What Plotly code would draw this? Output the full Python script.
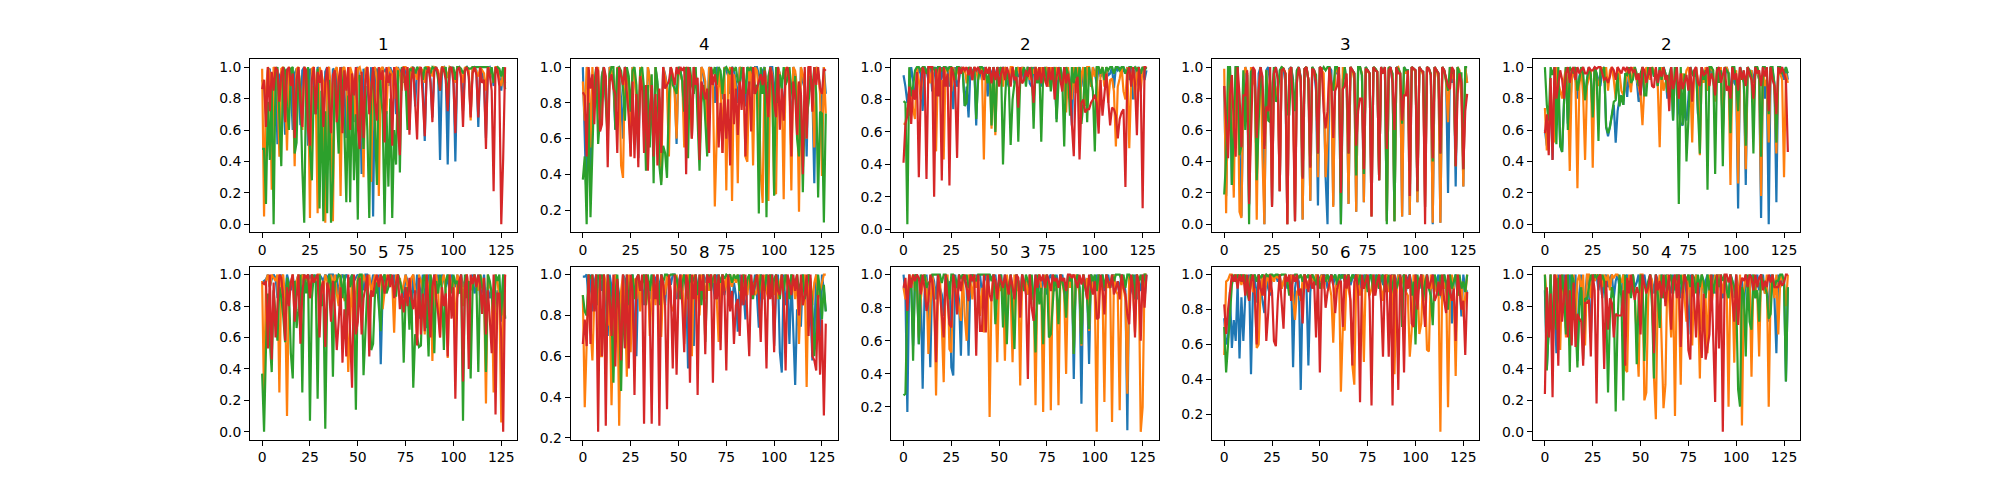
import plotly.graph_objects as go

titles = ["1", "4", "2", "3", "2", "5", "8", "3", "6", "4"]
x_ticks = [0, 25, 50, 75, 100, 125]
colors = ["#1f77b4", "#ff7f0e", "#2ca02c", "#d62728"]

b1 = [92,88,70,98,99,62,95,100,51,94,97,85,57,99,96,88,
60,96,99,94,63,98,100,90,50,99,96,92,70,100,98,93,
58,97,100,91,66,99,98,94,60,96,100,88,55,99,97,92,
65,98,100,90,32,99,95,90,72,100,5,97,99,90,80,100,
97,99,88,100,95,99,70,100,96,99,90,100,97,60,99,100,
75,100,98,99,90,53,99,100,92,68,100,98,96,41,99,100,
95,38,98,100,96,40,99,100,97,72,99,100,96,70,99,100,
98,62,100,97,90,55,99,100,96,88,100,99,95,85,100,90]
o1 = [99,5,85,100,96,22,100,98,90,43,99,100,88,47,100,98,
92,37,99,100,85,60,100,98,92,4,99,100,85,7,100,96,
90,1,99,100,85,2,98,100,88,18,99,100,92,45,100,96,
88,60,99,100,95,30,99,100,90,27,98,100,92,18,99,100,
90,70,100,98,95,80,100,99,96,85,100,100,97,90,100,99,
96,92,100,99,98,90,100,100,99,94,100,99,98,92,100,100,
98,93,100,99,98,90,100,100,97,90,100,99,98,66,100,100,
97,94,100,98,96,85,100,99,98,90,100,100,92,88,96,86]
g1 = [48,48,13,78,41,88,0,96,100,70,37,100,98,75,60,99,
100,45,52,98,85,35,1,95,100,48,28,88,70,99,10,85,
2,72,7,92,1,28,96,72,45,100,88,60,14,82,14,90,
28,70,3,95,72,48,88,60,4,85,98,62,25,100,82,70,
0,72,24,80,4,60,38,98,33,100,96,90,60,99,98,100,
96,100,98,99,92,100,99,98,96,100,99,100,92,85,100,98,
100,75,100,99,100,92,100,100,99,96,98,100,99,99,100,100,
100,100,100,100,100,100,100,95,100,90,98,100,99,94,100,86]
r1 = [86,92,62,100,72,97,85,100,98,78,95,100,65,98,100,88,
96,55,92,100,78,62,100,98,60,50,92,100,70,97,90,98,
62,90,100,80,58,95,98,65,92,100,58,98,85,100,60,96,
82,100,62,48,97,55,92,100,70,85,100,78,66,100,92,98,
52,100,90,96,50,100,88,60,44,98,100,85,100,57,92,100,
75,54,98,100,80,56,96,100,90,65,98,100,96,85,100,98,
92,72,99,100,90,58,98,100,93,62,98,100,94,68,96,100,
95,68,100,90,92,48,100,95,85,21,100,98,88,0,42,100]

b2 = [100,60,22,98,35,95,88,100,90,70,96,100,85,66,100,98,
90,65,100,96,82,60,100,98,90,55,100,96,85,49,100,92,
88,52,100,94,86,65,100,90,82,60,100,96,90,72,100,94,
90,57,100,98,92,70,100,96,88,60,100,94,90,68,100,96,
88,72,100,98,92,80,100,98,94,82,100,98,95,85,100,98,
92,80,100,96,90,78,100,96,92,85,100,100,96,90,98,100,
92,88,100,100,90,72,100,96,88,72,100,94,90,62,100,96,
85,60,100,92,88,50,100,90,85,35,100,96,90,70,100,85]
o2 = [92,70,100,96,55,100,80,96,100,65,95,100,85,60,100,98,
90,72,100,96,45,38,100,96,88,50,100,95,80,60,100,92,
85,62,100,94,78,55,100,88,82,36,100,95,88,50,100,96,
85,60,100,96,92,55,100,98,85,60,100,96,88,55,100,98,
92,52,100,96,90,22,70,100,88,52,100,31,96,100,25,96,
88,35,100,98,92,50,47,100,96,45,100,98,85,40,24,100,
88,25,100,96,30,29,100,96,88,26,100,94,90,31,100,98,
88,19,100,96,88,60,100,94,90,55,100,98,85,39,100,74]
g2 = [37,50,12,80,16,54,90,100,57,72,95,100,80,60,96,100,
100,65,99,100,98,88,70,100,95,75,98,100,90,60,98,100,
88,42,90,55,96,35,100,92,45,34,56,52,38,82,100,90,
88,85,100,98,92,75,100,49,100,90,85,100,70,42,80,90,
70,50,85,100,96,100,90,100,98,85,99,100,98,96,100,98,
100,92,90,100,96,85,100,98,100,96,88,90,18,100,85,100,
16,95,100,90,28,100,80,96,88,100,90,94,100,88,82,95,
60,50,85,30,78,72,80,95,88,100,85,27,75,74,13,74]
r2 = [86,84,50,100,88,96,68,100,98,64,68,100,95,44,92,96,
88,85,52,100,95,90,100,85,72,50,92,49,85,44,95,88,
52,90,42,75,90,50,85,45,88,52,100,88,90,92,100,95,
90,100,96,100,98,100,40,100,96,60,100,90,94,48,92,88,
82,88,52,100,90,96,88,55,80,52,85,60,82,45,100,68,
88,62,92,76,100,50,84,92,64,100,85,88,92,96,90,98,
85,72,100,94,80,72,100,65,88,70,98,100,92,50,92,84,
62,92,85,40,100,60,100,100,75,100,90,100,88,85,99,98]

b3 = [95,88,78,86,100,92,80,90,100,96,73,100,98,92,100,85,
96,100,90,82,100,93,98,100,88,96,74,100,88,92,100,98,
76,88,69,100,96,100,64,100,98,92,100,96,82,100,94,100,
96,92,100,90,100,98,92,88,95,100,90,100,94,96,100,92,
98,100,90,88,100,96,92,100,88,94,100,96,88,100,92,98,
68,100,96,90,100,80,98,92,64,100,90,96,100,88,100,92,
100,94,88,100,96,90,100,94,98,92,100,95,96,100,87,100,
98,100,95,100,96,100,92,100,80,98,100,88,96,100,92,98]
o3 = [65,65,75,70,86,74,68,100,92,80,100,98,96,100,90,100,
85,48,100,88,92,43,100,98,100,85,100,92,100,95,100,96,
100,90,98,100,92,100,98,92,100,98,43,100,96,100,62,100,
58,100,96,100,88,100,98,92,100,100,96,98,100,94,100,98,
96,100,92,100,96,100,98,92,100,90,98,100,88,100,92,96,
100,92,100,90,96,72,100,88,80,100,84,100,68,96,100,76,
100,100,88,100,94,100,66,96,100,88,100,78,92,93,85,51,
88,93,100,85,80,100,50,90,100,80,100,92,85,100,99,100]
g3 = [79,78,3,100,82,88,98,100,100,98,100,100,96,100,100,98,
100,96,100,100,98,100,100,98,100,100,98,92,100,100,99,96,
76,78,100,98,95,100,68,92,100,100,98,96,90,100,64,100,
60,100,96,100,40,78,100,92,52,80,90,100,54,92,96,100,
88,100,96,100,62,100,90,100,54,96,100,90,100,85,96,100,
66,90,100,92,51,100,96,70,100,90,100,88,100,65,78,100,
66,100,92,85,48,100,100,96,100,92,100,98,100,100,96,100,
100,98,100,100,96,98,100,100,99,100,98,100,96,100,98,100]
r3 = [41,65,70,88,65,86,80,97,32,85,100,96,31,100,100,100,
20,99,82,100,30,100,88,96,27,100,96,88,44,100,96,100,
98,100,95,100,92,100,98,100,96,98,92,100,96,100,90,100,
92,100,88,96,100,92,100,96,88,100,92,94,75,100,90,92,
98,94,100,92,78,100,92,100,90,100,92,88,100,92,100,80,
94,100,92,85,100,90,96,88,65,45,90,94,43,78,80,72,
74,74,78,80,83,78,59,92,70,84,96,80,64,75,74,70,
56,68,72,74,26,96,100,88,100,90,58,100,88,13,100,100]

b4 = [88,18,70,100,25,44,100,100,50,5,80,100,96,12,97,99,
96,28,96,100,85,0,98,100,90,12,98,100,94,21,100,99,
90,0,99,100,92,2,98,100,94,3,99,100,92,15,100,98,
85,12,100,99,85,30,0,100,98,12,100,96,95,0,92,100,
90,13,100,98,96,8,100,100,95,14,100,98,96,5,100,99,
97,28,100,96,100,2,99,100,90,2,100,99,96,5,100,98,
98,6,100,99,98,14,100,98,97,11,100,99,95,0,100,98,
96,1,100,98,92,20,100,90,98,24,100,96,92,24,100,90]
o4 = [99,7,85,100,62,17,100,96,8,4,90,100,96,52,100,92,
88,3,85,100,42,0,98,72,92,12,96,80,88,21,100,99,
96,0,98,100,82,2,97,100,92,3,99,100,92,15,100,96,
92,30,100,98,96,30,54,100,85,11,96,100,96,19,100,95,
90,13,100,98,92,8,100,100,96,14,100,97,96,5,100,99,
97,28,100,96,99,2,100,99,95,2,99,100,96,5,100,96,
98,6,100,99,97,14,100,98,95,11,100,99,95,1,100,98,
92,1,100,98,90,65,100,95,92,37,100,98,80,24,100,90]
g4 = [19,42,100,100,25,62,100,100,44,50,98,60,95,0,97,99,
96,28,64,100,85,50,98,66,65,85,100,78,80,98,100,99,
96,70,70,100,90,72,98,100,92,30,99,100,92,37,100,98,
95,45,100,98,100,98,100,100,90,85,100,100,95,0,85,100,
90,45,100,98,96,31,100,100,95,32,100,98,96,26,100,99,
97,28,100,96,100,0,100,99,96,2,100,99,96,64,100,98,
98,34,100,99,98,21,100,98,97,45,100,99,96,40,100,98,
96,45,100,98,92,85,100,96,98,37,100,96,96,35,100,100]
r4 = [88,60,42,82,95,63,43,100,82,49,82,82,98,13,52,100,
98,55,85,100,94,48,75,72,100,11,96,100,92,21,98,99,
96,0,95,100,72,2,90,100,92,29,99,100,92,36,99,98,
90,45,100,99,72,61,72,100,90,55,85,88,100,20,86,88,
96,45,100,98,96,50,72,80,80,35,99,98,96,5,100,98,
97,28,100,96,100,48,98,100,90,60,100,96,96,66,82,82,
98,18,100,99,98,21,100,98,97,0,100,99,95,42,100,98,
96,45,100,98,92,88,86,100,98,37,83,96,90,35,72,83]

b5 = [60,50,60,85,41,90,96,85,50,46,78,100,64,70,92,96,
100,80,94,100,90,79,92,100,95,68,100,96,92,88,98,100,
62,56,62,70,76,52,72,80,82,76,96,81,98,88,96,100,
92,78,80,100,84,90,100,95,100,94,96,88,100,92,100,96,
80,90,100,66,100,92,72,64,63,72,66,80,100,96,94,100,
70,88,100,92,98,85,96,100,92,84,98,90,100,60,92,100,
96,80,100,90,88,10,100,96,90,25,100,96,98,90,100,96,
92,4,100,80,92,0,100,98,90,14,100,100,96,92,100,92]
o5 = [74,47,58,88,60,52,100,90,85,80,92,100,85,34,92,100,
90,23,88,100,82,41,88,94,98,36,98,92,88,95,100,90,
100,85,98,100,92,80,100,96,85,82,88,100,92,84,100,96,
92,88,82,63,88,100,96,92,100,98,96,88,49,100,85,90,
90,88,96,78,100,92,80,88,96,90,98,100,92,52,96,100,
92,44,100,90,100,85,98,100,96,78,100,92,100,58,98,100,
96,25,100,92,98,26,100,94,92,35,100,96,98,75,96,100,
92,18,100,88,92,52,100,96,88,45,98,96,92,30,96,90]
g5 = [100,76,66,100,95,100,51,100,50,46,78,100,60,100,98,96,
100,85,92,100,96,79,92,100,95,68,100,96,53,100,96,100,
62,58,62,70,78,79,96,75,82,76,96,95,100,90,92,100,
96,88,96,100,82,82,100,95,100,94,96,88,100,92,100,96,
84,95,100,66,100,92,13,100,63,96,40,66,100,96,94,100,
68,45,100,92,98,22,100,100,98,32,100,90,98,37,100,98,
96,58,100,100,90,72,100,96,90,50,100,98,94,45,100,100,
96,43,100,100,96,70,100,100,88,52,100,100,96,96,100,96]
r5 = [58,70,44,93,41,100,80,88,98,92,80,96,100,90,98,100,
92,100,96,98,100,96,96,100,98,98,100,99,100,100,96,92,
93,90,94,100,98,92,100,98,96,100,98,100,96,100,97,98,
92,96,82,100,98,90,96,100,88,87,100,90,98,94,100,92,
95,72,100,86,92,100,80,96,86,90,95,85,100,78,98,100,
90,88,100,95,96,100,88,96,92,82,98,100,90,95,100,85,
88,80,100,92,96,85,100,92,98,88,100,95,92,80,100,96,
98,88,100,94,100,72,100,92,88,70,100,96,100,96,92,46]

b6 = [95,96,97,100,92,97,100,98,85,95,100,90,85,100,95,90,
100,88,96,100,85,100,98,96,100,98,100,96,100,92,100,98,
96,100,98,100,100,100,95,100,85,98,100,96,100,98,97,100,
96,98,100,96,100,90,100,100,98,92,100,96,88,100,43,90,
100,96,92,100,94,100,90,100,96,92,85,100,96,88,73,100,
85,100,72,90,100,85,66,100,96,90,100,88,100,94,100,96,
92,100,88,100,96,92,100,88,100,92,96,100,90,96,100,88,
92,100,85,90,100,80,92,85,90,70,80,90,85,70,100,72]
o6 = [96,20,96,100,92,100,98,96,100,25,98,100,85,10,90,96,
100,70,96,100,92,100,98,96,100,85,100,98,96,100,100,90,
88,100,96,90,100,92,100,88,80,100,88,84,85,38,72,100,
60,88,98,100,92,100,96,90,100,88,95,100,92,96,100,78,
88,100,92,100,96,63,100,96,98,88,94,100,92,86,98,100,
90,56,100,96,90,62,100,85,100,45,98,100,90,60,96,100,
88,47,100,92,96,60,100,96,98,80,98,100,92,90,96,100,
92,90,100,96,90,18,100,92,90,25,100,96,85,6,78,100]
g6 = [37,0,53,88,58,38,90,72,58,92,86,74,57,98,92,50,
34,96,66,78,100,25,100,88,100,7,85,100,95,21,100,80,
88,2,85,100,94,35,95,96,100,99,85,100,70,98,92,100,
85,14,96,100,100,36,70,92,85,52,56,88,95,80,64,98,
100,88,92,100,96,92,86,100,96,90,44,85,92,65,90,28,
62,60,54,55,96,100,80,48,100,92,50,96,88,100,90,52,
96,100,92,88,100,94,96,88,100,7,100,85,96,34,90,100,
95,38,100,92,88,38,100,96,88,70,100,96,100,74,100,72]
r6 = [95,94,96,53,100,46,95,60,80,100,98,85,58,92,80,95,
100,70,85,100,56,88,100,98,100,85,100,95,98,100,60,92,
96,54,95,90,70,96,78,52,70,92,44,78,48,100,62,28,
100,62,70,98,62,85,92,100,48,90,86,96,100,92,100,96,
88,96,100,92,100,85,95,100,78,88,76,92,80,98,85,78,
90,55,98,62,88,64,100,78,60,92,100,85,75,60,92,80,
88,48,100,72,92,21,85,96,100,32,92,100,40,100,94,100,
92,100,93,75,98,62,90,72,50,100,11,88,88,60,0,100]

b7 = [99,99,100,88,100,82,96,100,85,100,92,100,88,70,100,94,
80,100,96,90,62,100,98,78,59,98,100,72,60,100,92,96,
85,100,96,88,100,92,98,100,92,100,96,85,100,99,95,100,
100,88,96,100,92,100,95,54,100,96,65,100,94,92,98,100,
96,100,92,100,96,88,100,98,85,100,90,96,100,92,85,96,
90,72,100,85,92,78,96,100,88,92,100,90,74,100,88,92,
100,88,96,100,65,92,100,62,52,100,85,92,66,100,76,46,
83,75,75,100,92,90,100,85,58,70,100,88,70,100,92,82]
o7 = [90,35,66,100,75,58,88,100,92,60,60,100,96,75,88,36,
82,100,96,26,92,100,85,50,100,62,96,98,88,100,82,96,
100,85,100,70,92,100,85,100,70,70,96,90,100,92,86,82,
85,100,92,88,100,66,92,100,96,60,100,88,92,80,100,98,
88,100,92,100,96,100,88,67,96,100,92,100,88,100,94,100,
96,100,92,88,100,96,90,100,92,96,90,92,100,96,88,100,
92,88,100,96,90,100,88,96,100,92,100,95,90,100,96,88,
100,66,92,96,100,45,100,98,85,96,100,88,92,96,100,100]
g7 = [90,82,80,100,98,100,92,85,100,98,100,88,52,100,96,80,
47,90,100,85,43,90,64,100,85,96,100,88,98,100,92,96,
100,85,100,92,100,94,90,96,85,100,96,100,100,99,100,100,
100,98,92,88,96,100,92,88,100,96,98,100,90,100,85,100,
67,96,100,92,98,100,88,100,96,100,98,100,99,100,96,100,
98,100,92,96,100,90,98,100,92,88,98,100,90,100,98,92,
100,96,100,90,98,100,96,88,100,92,100,96,88,100,98,96,
100,92,96,100,88,92,100,96,85,60,72,100,92,78,95,82]
r7 = [66,78,65,100,66,100,82,100,23,100,60,100,26,100,88,70,
100,55,98,82,58,100,64,100,54,100,92,41,98,100,92,100,
27,100,96,82,27,100,88,100,26,100,96,85,34,100,92,54,
100,51,92,100,85,62,100,96,47,100,88,100,41,100,92,100,
61,100,96,100,47,100,88,100,63,100,92,53,100,82,92,66,
85,88,70,100,85,100,80,60,100,90,96,100,90,67,100,92,
54,100,88,100,62,100,92,90,100,88,53,100,96,90,100,92,
100,80,100,85,90,100,70,100,60,58,53,90,51,78,31,76]

b8 = [100,88,17,100,95,57,98,100,58,92,31,88,100,85,44,100,
96,85,100,92,88,75,100,92,96,44,39,100,92,85,51,100,
96,92,51,100,98,94,100,96,100,88,96,100,92,100,98,96,
100,90,96,100,88,100,92,88,100,92,88,100,96,85,100,92,
96,88,100,90,85,100,92,96,88,100,92,88,98,100,94,90,
100,92,96,100,92,85,100,96,100,37,96,100,92,22,100,96,
90,46,100,98,92,100,96,92,100,90,96,100,92,98,100,90,
96,92,100,98,90,6,100,92,88,100,85,96,90,100,85,100]
o8 = [92,85,88,100,96,100,90,98,62,85,95,100,96,52,80,100,
92,27,88,100,70,35,95,100,55,53,100,92,88,80,72,100,
75,60,100,96,85,100,92,100,75,92,65,88,100,14,88,100,
96,47,100,90,96,48,100,92,88,47,100,90,96,33,100,92,
96,88,100,85,92,21,98,100,92,17,100,92,96,18,100,92,
96,21,100,96,88,40,100,92,100,52,100,96,88,57,100,92,
98,66,100,92,88,5,100,96,90,23,100,92,96,11,100,90,
88,18,100,92,85,28,100,96,92,65,100,96,5,20,100,100]
g8 = [27,28,85,92,98,48,100,98,58,100,95,100,92,95,96,100,
100,100,100,100,95,100,100,96,85,100,100,98,92,100,98,100,
96,100,92,96,100,98,96,100,100,100,100,100,100,100,96,100,
70,90,94,100,68,98,58,92,100,80,55,100,96,85,100,90,
100,96,92,100,85,53,100,82,92,58,96,100,62,64,85,100,
92,70,100,96,90,74,100,96,98,52,96,100,92,58,100,92,
85,67,100,96,100,90,100,96,100,92,100,96,92,100,96,100,
100,100,96,100,92,100,100,96,100,85,100,96,100,92,100,100]
r8 = [92,98,78,100,92,100,96,100,98,88,100,92,78,84,100,96,
83,47,100,90,76,62,100,85,70,68,100,92,76,100,90,98,
100,92,84,100,96,100,51,100,66,66,100,65,100,88,84,100,
96,85,100,96,92,100,94,88,100,92,85,100,98,74,100,96,
88,37,100,80,72,100,92,100,96,100,92,100,96,90,100,96,
98,92,100,96,98,90,100,100,98,100,96,92,100,94,100,92,
85,100,92,88,96,73,74,100,92,76,100,96,92,100,88,92,
96,85,100,92,88,76,70,100,92,62,100,95,60,100,80,100]

b9 = [75,60,64,90,58,74,62,95,52,87,62,88,95,100,43,90,
98,84,100,92,85,78,100,92,88,100,98,100,96,100,92,96,
100,92,96,100,47,92,100,96,34,92,100,94,48,90,100,96,
100,92,98,100,96,100,92,98,100,94,100,96,92,100,98,100,
96,100,94,98,100,92,100,96,90,100,96,92,100,98,90,100,
96,92,100,94,98,100,92,98,100,88,96,100,92,98,100,90,
98,100,94,88,100,96,92,100,98,90,100,94,88,100,92,96,
100,90,85,100,92,80,100,72,96,100,88,96,76,100,92,90]
o9 = [54,96,97,100,100,98,100,96,100,94,100,98,92,96,100,90,
92,58,60,90,100,88,96,100,90,100,96,100,98,100,92,96,
100,96,92,100,85,74,90,92,85,98,100,92,96,98,100,94,
100,98,96,100,92,98,100,94,88,61,92,96,100,33,70,68,
100,92,85,48,37,96,100,88,92,50,100,96,88,92,100,90,
96,100,92,85,98,100,90,96,100,43,88,100,92,96,100,90,
88,53,68,100,92,96,66,72,100,92,57,56,100,92,96,90,
95,10,100,92,96,24,88,100,92,42,100,88,96,76,90,100]
g9 = [70,44,60,80,94,100,96,100,98,100,96,100,90,85,100,98,
100,96,100,98,100,98,100,99,100,100,99,100,100,99,100,100,
100,96,88,92,98,100,100,98,100,96,100,98,100,96,100,98,
94,100,92,96,100,96,100,96,100,98,100,94,100,98,100,96,
98,100,96,100,98,100,94,100,96,92,100,90,98,100,88,96,
100,92,98,100,90,96,100,88,94,100,92,96,100,70,100,96,
92,100,88,96,60,100,92,100,85,96,100,92,88,71,100,96,
88,100,92,100,96,80,100,92,96,100,88,100,92,96,90,100]
r9 = [83,66,80,90,100,96,100,92,100,96,100,88,100,85,96,100,
88,60,100,92,88,100,62,78,100,90,62,59,85,100,85,69,
100,96,100,85,100,96,100,88,92,72,100,96,90,100,92,96,
64,100,44,96,100,81,90,96,100,94,78,92,96,96,70,100,
92,100,85,48,96,100,90,27,100,92,96,100,85,25,100,88,
96,100,85,53,100,92,53,100,25,100,88,34,100,90,44,100,
92,100,72,70,100,80,96,100,85,70,100,92,96,100,85,88,
96,88,100,85,78,100,90,85,92,62,100,92,80,85,54,90]

b10 = [90,40,66,100,60,88,50,100,70,85,100,66,90,100,70,85,
100,45,88,100,70,85,100,92,60,100,96,100,90,100,85,96,
100,92,98,100,85,96,100,92,88,100,96,100,90,98,100,92,
95,100,88,96,100,92,90,100,96,88,100,96,92,100,85,96,
100,92,88,100,90,96,100,85,92,100,88,62,100,92,88,100,
85,92,100,88,96,100,85,92,100,88,96,100,90,85,100,92,
88,100,96,85,100,92,88,96,78,100,92,88,100,94,85,100,
90,96,100,88,96,70,100,92,85,50,100,92,96,96,32,92]
o10 = [100,85,60,100,55,92,100,85,52,100,88,60,100,55,85,100,
70,96,100,90,100,55,100,100,85,100,96,100,98,100,92,100,
96,100,90,100,98,100,100,98,95,100,40,38,100,92,100,85,
60,35,100,100,20,25,85,100,96,35,8,90,100,50,15,30,
100,82,60,92,10,100,88,30,100,85,70,100,90,55,92,100,
85,34,100,92,85,50,100,80,92,100,85,100,96,88,100,92,
16,100,92,44,100,82,100,4,90,100,92,100,35,100,92,88,
48,100,96,88,100,16,92,100,85,100,62,96,100,94,80,100]
g10 = [100,39,66,100,52,100,65,98,80,100,88,62,100,38,100,96,
70,41,80,92,46,85,84,92,100,96,100,98,100,94,100,96,
80,25,75,92,85,13,70,100,85,20,100,92,96,85,100,88,
43,85,100,96,45,88,96,100,80,34,100,88,66,100,85,100,
90,96,100,88,96,100,92,100,88,100,96,100,92,100,98,88,
100,92,100,96,85,100,90,100,88,96,100,92,100,96,100,90,
85,100,96,92,85,27,16,92,88,48,100,70,65,100,85,90,
70,100,96,92,88,72,75,100,92,96,96,100,100,96,32,92]
r10 = [24,92,60,88,22,100,96,42,100,70,85,100,60,90,55,95,
54,75,72,70,42,82,82,84,48,100,90,18,98,100,85,40,
96,65,85,82,60,75,74,74,74,90,42,98,88,100,90,84,
92,88,62,100,95,88,92,100,88,50,100,90,96,85,100,80,
92,100,65,96,100,85,100,54,88,100,95,52,46,100,85,60,
95,65,47,88,46,55,62,100,62,19,100,53,100,0,100,100,
95,100,85,70,100,68,92,98,96,100,92,100,98,90,100,92,
98,100,90,96,92,100,95,100,92,92,92,96,93,95,100,100]

panels = [(b1, o1, g1, r1), (b2, o2, g2, r2), (b3, o3, g3, r3), (b4, o4, g4, r4), (b5, o5, g5, r5),
          (b6, o6, g6, r6), (b7, o7, g7, r7), (b8, o8, g8, r8), (b9, o9, g9, r9), (b10, o10, g10, r10)]

W, H = 2000, 500
FONT = "DejaVu Sans"
fig = go.Figure()
layout = dict(
    width=W, height=H, margin=dict(l=0, r=0, t=0, b=0),
    paper_bgcolor="white", plot_bgcolor="white", showlegend=False,
    font=dict(family=FONT, size=13.9, color="black"),
)
annotations = []
panel_w = 1550 / 5.8
panel_h = 175
for idx, series in enumerate(panels):
    row, col = divmod(idx, 5)
    left = 250 + col * panel_w * 1.2
    top = 60 + row * panel_h * 1.2
    name = "" if idx == 0 else str(idx + 1)
    for values, color in zip(series, colors):
        fig.add_trace(go.Scatter(
            x=list(range(len(values))), y=[v / 100 for v in values],
            mode="lines", line=dict(color=color, width=2.2),
            xaxis=f"x{name}", yaxis=f"y{name}", hoverinfo="skip",
        ))
    lo = min(min(s) for s in series) / 100
    hi = max(max(s) for s in series) / 100
    pad = (hi - lo) * 0.05
    common = dict(showgrid=False, zeroline=False, showline=True, mirror=True,
                  linecolor="black", linewidth=1.1, ticks="outside", ticklen=4.9,
                  tickwidth=1.1, tickcolor="black",
                  tickfont=dict(family=FONT, size=13.9, color="black"))
    layout[f"xaxis{name}"] = dict(
        domain=[left / W, (left + panel_w) / W], range=[-6.35, 133.35],
        anchor=f"y{name}", tickmode="array", tickvals=x_ticks,
        ticktext=[str(t) for t in x_ticks], **common)
    layout[f"yaxis{name}"] = dict(
        domain=[1 - (top + panel_h) / H, 1 - top / H], range=[lo - pad, hi + pad],
        anchor=f"x{name}", tickmode="linear", tick0=0, dtick=0.2, tickformat=".1f", **common)
    annotations.append(dict(
        text=titles[idx], xref="paper", yref="paper", showarrow=False,
        x=(left + panel_w / 2) / W, y=1 - top / H, xanchor="center", yanchor="bottom",
        yshift=3, font=dict(family=FONT, size=16.67, color="black")))
layout["annotations"] = annotations
fig.update_layout(**layout)
fig.write_html("out.html", config={"displayModeBar": False},
               post_script="document.body.style.margin='0';")
